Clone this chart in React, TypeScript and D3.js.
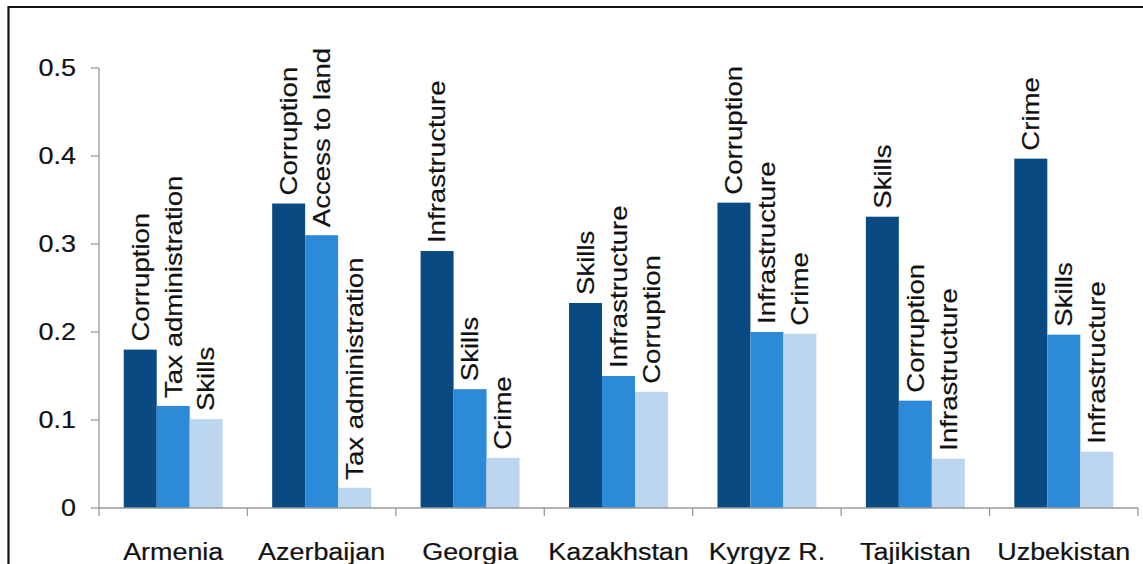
import React from "react";
import * as d3 from "d3";

const countries = ["Armenia", "Azerbaijan", "Georgia", "Kazakhstan", "Kyrgyz R.", "Tajikistan", "Uzbekistan"];
const firstLabels = ["Corruption", "Corruption", "Infrastructure", "Skills", "Corruption", "Skills", "Crime"];
const firstValues = [0.18, 0.346, 0.292, 0.233, 0.347, 0.331, 0.397];
const secondLabels = ["Tax administration", "Access to land", "Skills", "Infrastructure", "Infrastructure", "Corruption", "Skills"];
const secondValues = [0.116, 0.31, 0.135, 0.15, 0.2, 0.122, 0.197];
const thirdLabels = ["Skills", "Tax administration", "Crime", "Corruption", "Crime", "Infrastructure", "Infrastructure"];
const thirdValues = [0.101, 0.023, 0.057, 0.132, 0.198, 0.056, 0.064];
const yTicks = [0, 0.1, 0.2, 0.3, 0.4, 0.5];

const colors = ["#0a4a82", "#2d8ad8", "#bdd6ef"];
const FONT = "'Liberation Sans', Arial, Helvetica, sans-serif";

export default function App() {
  const W = 1143, H = 564;
  const left = 99, right = 1138, top = 68, bottom = 508;
  const x = d3.scaleBand<string>().domain(countries).range([left, right]).paddingInner(0).paddingOuter(0);
  const x1 = d3.scaleBand<string>().domain(["0", "1", "2"]).range([0, x.bandwidth()]).paddingInner(0).paddingOuter(0.75);
  const y = d3.scaleLinear().domain([0, 0.5]).range([bottom, top]);

  const series = [
    { labels: firstLabels, values: firstValues },
    { labels: secondLabels, values: secondValues },
    { labels: thirdLabels, values: thirdValues },
  ];

  const boundaries = d3.range(countries.length + 1).map((i) => left + i * x.step());
  const textStyle = { fill: "#111", stroke: "#111", strokeWidth: 0.2 };

  return (
    <svg width={W} height={H} style={{ position: "absolute", left: 0, top: 0, background: "#fff" }} fontFamily={FONT}>
      <rect x={0} y={0} width={W} height={H} fill="#fff" />
      {/* frame */}
      <path d={`M8.5,${H + 5} L8.5,7 L${W + 5},7`} fill="none" stroke="#111" strokeWidth={2.2} />

      {/* bars */}
      {countries.map((c, ci) => (
        <g key={c}>
          {series.map((s, si) => {
            const bx = (x(c) as number) + (x1(String(si)) as number);
            const bw = x1.bandwidth();
            const by = y(s.values[ci]);
            return (
              <g key={si}>
                <rect x={bx} y={by} width={bw} height={bottom - by} fill={colors[si]} />
                <text
                  transform={`translate(${bx + bw / 2},${by - 8}) rotate(-90) scale(1.2,1)`}
                  dy="0.36em"
                  fontSize={23}
                  textAnchor="start"
                  style={textStyle}
                >
                  {s.labels[ci]}
                </text>
              </g>
            );
          })}
        </g>
      ))}

      {/* y axis */}
      <line x1={left} x2={left} y1={top} y2={bottom} stroke="#999" strokeWidth={1.3} />
      {yTicks.map((t) => (
        <g key={t}>
          <line x1={left - 8} x2={left} y1={y(t)} y2={y(t)} stroke="#999" strokeWidth={1.3} />
          <text
            transform={`translate(76,${y(t)}) scale(1.17,1)`}
            dy="0.36em"
            textAnchor="end"
            fontSize={23}
            style={textStyle}
          >
            {t === 0 ? "0" : d3.format(".1f")(t)}
          </text>
        </g>
      ))}

      {/* x axis */}
      <line x1={left} x2={right} y1={bottom} y2={bottom} stroke="#999" strokeWidth={1.3} />
      {boundaries.map((b, i) => (
        <line key={i} x1={b} x2={b} y1={bottom} y2={bottom + 8} stroke="#999" strokeWidth={1.3} />
      ))}
      {countries.map((c) => (
        <text
          key={c}
          transform={`translate(${(x(c) as number) + x.bandwidth() / 2},559.5) scale(1.17,1)`}
          textAnchor="middle"
          fontSize={23}
          style={textStyle}
        >
          {c}
        </text>
      ))}
    </svg>
  );
}
